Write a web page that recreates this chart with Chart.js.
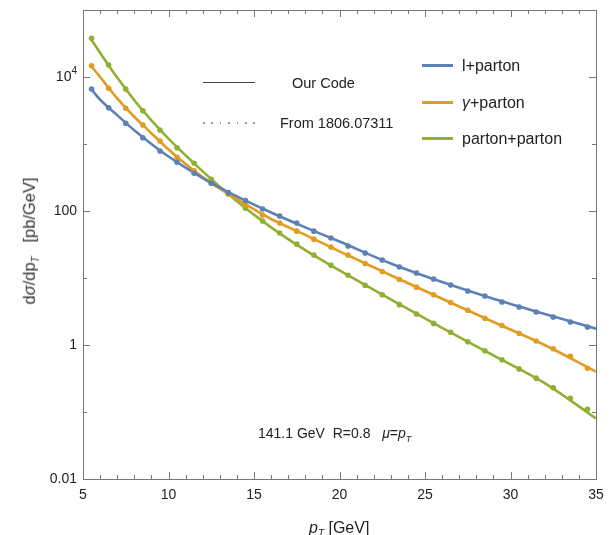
<!DOCTYPE html>
<html>
<head>
<meta charset="utf-8">
<script src="https://cdn.jsdelivr.net/npm/chart.js@4/dist/chart.umd.min.js"></script>
<style>
  html,body{margin:0;padding:0;background:#fff;}
  #wrap{position:relative;width:611px;height:535px;overflow:hidden;font-family:"Liberation Sans",Arial,sans-serif;color:#222;}
  canvas{position:absolute;left:0;top:0;}
  .t{position:absolute;white-space:nowrap;line-height:1;}
  .ln{position:absolute;height:0;}
</style>
</head>
<body>
<div id="wrap">
<canvas id="c" width="611" height="535"></canvas>
<div class="ln" style="left:203px;top:82px;width:52px;border-top:1.3px solid #444;"></div>
<div class="t" style="left:292px;top:76px;font-size:14.5px;">Our Code</div>
<div class="ln" style="left:203px;top:122px;width:54px;height:1.6px;background:repeating-linear-gradient(90deg,#999 0 1.6px,transparent 1.6px 8.4px);"></div>
<div class="t" style="left:280px;top:116px;font-size:14.5px;">From 1806.07311</div>
<div class="ln" style="left:422px;top:64px;width:31px;border-top:3px solid #5E81B5;"></div>
<div class="t" style="left:462px;top:58px;font-size:16px;">l+parton</div>
<div class="ln" style="left:422px;top:101px;width:31px;border-top:3px solid #E19C24;"></div>
<div class="t" style="left:462px;top:95px;font-size:16px;"><i>γ</i>+parton</div>
<div class="ln" style="left:422px;top:137px;width:31px;border-top:3px solid #8FB032;"></div>
<div class="t" style="left:462px;top:131px;font-size:16px;">parton+parton</div>
<div class="t" style="left:258px;top:426px;font-size:14px;">141.1 GeV&nbsp; R=0.8 &nbsp; <i>μ</i>=<i>p<sub style="font-size:9px">T</sub></i></div>
<div class="t" style="left:31px;top:241px;font-size:16.5px;color:#333;transform:translate(-50%,-50%) rotate(-90deg);">d<i>σ</i>/dp<sub style="font-size:10px"><i>T</i></sub>&nbsp;&nbsp; [pb/GeV]</div>
<div class="t" style="left:309px;top:520px;font-size:16px;"><i>p<sub style="font-size:10px">T</sub></i> [GeV]</div>
</div>
<script>
// ---- data ----
const pointX = [5.5,6.5,7.5,8.5,9.5,10.5,11.5,12.5,13.5,14.5,15.5,16.5,17.5,18.5,19.5,20.5,21.5,22.5,23.5,24.5,25.5,26.5,27.5,28.5,29.5,30.5,31.5,32.5,33.5,34.5];
const lepPts = [6620,3480,2040,1240,787,533,366,259,188,143,107,84,66,50,39.5,30,23.6,18.6,14.6,11.9,9.67,7.87,6.4,5.38,4.38,3.69,3.11,2.62,2.2,1.86];
const phoPts = [14750,6780,3410,1920,1110,633,399,259,180,123,87,66,50,38,29,22,16.5,12.5,9.5,7.3,5.6,4.3,3.3,2.5,1.95,1.5,1.15,0.88,0.68,0.45];
const parPts = [37800,15100,6620,3140,1620,881,515,297,179,110,71,47,32,22,15.5,11,7.8,5.6,4.0,2.9,2.1,1.55,1.12,0.82,0.6,0.44,0.32,0.23,0.16,0.11];

const lineX  = [5.4,6,7,8,9,10,12,14,16,18,20,23,26,29,32,35];
const lepLine = [7000,4600,2700,1600,1000,650,310,165,95,57,35,16.5,8.7,4.9,2.9,1.75];
const phoLine = [15500,10000,4800,2550,1450,830,320,150,76,44,25,11,4.9,2.2,1.0,0.40];
const parLine = [39000,23000,9800,4500,2250,1200,390,140,57,26,13,4.8,1.8,0.7,0.27,0.08];

const xTicks = [5,10,15,20,25,30,35];
const yDecades = [0.01,0.1,1,10,100,1000,10000,100000];
const yLabels = {"0.01":"0.01","1":"1","100":"100"};
const yPowLabel = {value:10000, base:"10", exp:"4"};

const BLUE="#5E81B5", ORANGE="#E19C24", GREEN="#8FB032";
const xy = (xs, ys) => xs.map((x,i)=>({x:x,y:ys[i]}));

function lineDs(xs, ys, col){
  return {type:'line', data:xy(xs,ys), borderColor:col, borderWidth:2.6, pointRadius:0,
          cubicInterpolationMode:'monotone', fill:false, order:1};
}
function dotDs(ys, col){
  return {type:'line', data:xy(pointX,ys), showLine:false, pointRadius:2.8,
          pointBackgroundColor:col, pointBorderWidth:0, order:0};
}

const framePlugin = {
  id:'frame',
  afterDraw(chart){
    const {ctx, chartArea:a, scales:{x, y}} = chart;
    ctx.save();
    ctx.strokeStyle = '#777';
    ctx.lineWidth = 1;
    ctx.strokeRect(a.left+0.5, a.top+0.5, a.right-a.left, a.bottom-a.top);
    ctx.beginPath();
    for(let v=5; v<=35; v++){
      const px = Math.round(x.getPixelForValue(v))+0.5;
      const L = (v%5===0)?7:4;
      ctx.moveTo(px, a.bottom); ctx.lineTo(px, a.bottom-L);
      ctx.moveTo(px, a.top); ctx.lineTo(px, a.top+L);
    }
    yDecades.forEach((v,i)=>{
      const py = Math.round(y.getPixelForValue(v))+0.5;
      const L = (i%2===0)?7:4;
      ctx.moveTo(a.left, py); ctx.lineTo(a.left+L, py);
      ctx.moveTo(a.right, py); ctx.lineTo(a.right-L, py);
    });
    ctx.stroke();
    // 10^4 label with superscript
    const py = y.getPixelForValue(yPowLabel.value);
    ctx.fillStyle = '#222';
    ctx.textBaseline = 'middle';
    ctx.textAlign = 'right';
    ctx.font = '10px "Liberation Sans"';
    const ew = ctx.measureText(yPowLabel.exp).width;
    const right = a.left - 6;
    ctx.fillText(yPowLabel.exp, right, py - 6);
    ctx.font = '14px "Liberation Sans"';
    ctx.fillText(yPowLabel.base, right - ew, py);
    ctx.restore();
  }
};

new Chart(document.getElementById('c'), {
  data:{datasets:[
    lineDs(lineX, lepLine, BLUE), lineDs(lineX, phoLine, ORANGE), lineDs(lineX, parLine, GREEN),
    dotDs(lepPts, BLUE), dotDs(phoPts, ORANGE), dotDs(parPts, GREEN)
  ]},
  options:{
    responsive:false, devicePixelRatio:1, animation:false,
    layout:{padding:{top:10,right:15,left:0,bottom:0}},
    plugins:{legend:{display:false}, tooltip:{enabled:false}},
    scales:{
      x:{type:'linear', min:5, max:35,
         grid:{display:false, drawTicks:false}, border:{display:false},
         afterBuildTicks(s){ s.ticks = xTicks.map(v=>({value:v})); },
         ticks:{padding:8, color:'#222', font:{family:'Liberation Sans', size:14}, maxRotation:0},
         afterFit(s){ s.height = 56; s.paddingLeft = 0; s.paddingRight = 0; }},
      y:{type:'logarithmic', min:0.01, max:100000,
         grid:{display:false, drawTicks:false}, border:{display:false},
         afterBuildTicks(s){ s.ticks = yDecades.map(v=>({value:v})); },
         ticks:{padding:6, color:'#222', font:{family:'Liberation Sans', size:14}, autoSkip:false,
                callback(v){ return yLabels[String(v)] || ''; }},
         afterFit(s){ s.width = 83; s.paddingTop = 0; s.paddingBottom = 0; }}
    }
  },
  plugins:[framePlugin]
});
</script>
</body>
</html>
